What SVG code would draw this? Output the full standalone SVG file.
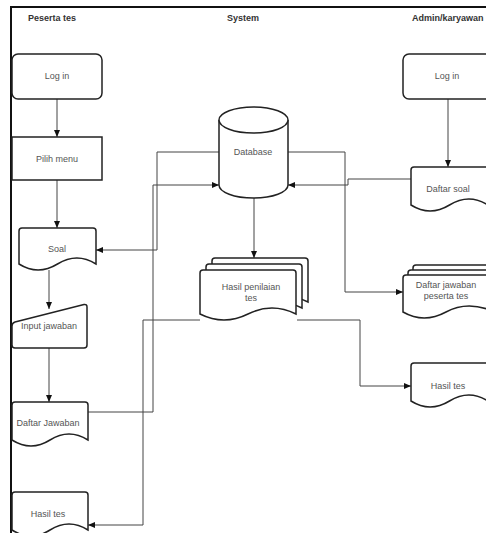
<svg xmlns="http://www.w3.org/2000/svg" width="486" height="533" viewBox="0 0 486 533">
<defs>
<style>
.n{fill:#fff;stroke:#222;stroke-width:1.5}
.t{font-family:"Liberation Sans",Arial,sans-serif;font-size:9px;fill:#555;text-anchor:middle}
.h{font-family:"Liberation Sans",Arial,sans-serif;font-size:9px;font-weight:bold;fill:#333}
.c{fill:none;stroke:#444;stroke-width:1}
.f{fill:none;stroke:#111;stroke-width:2}
</style>
<marker id="a" markerWidth="7" markerHeight="6" refX="7" refY="3" orient="auto" markerUnits="userSpaceOnUse">
<path d="M0,0 L7,3 L0,6 Z" fill="#111"/>
</marker>
</defs>
<rect width="486" height="533" fill="#fff"/>
<g id="frame">
<path class="f" d="M10,7 H486 M11,7 V533"/>
<text class="h" x="28" y="21">Peserta tes</text>
<text class="h" x="243" y="21" text-anchor="middle">System</text>
<text class="h" x="412" y="21">Admin/karyawan</text>
</g>
<g id="connectors">
<path class="c" marker-end="url(#a)" d="M57,99 V137"/>
<path class="c" marker-end="url(#a)" d="M57,180 V228"/>
<path class="c" marker-end="url(#a)" d="M49,270 V309"/>
<path class="c" marker-end="url(#a)" d="M49,348 V402"/>
<path class="c" marker-end="url(#a)" d="M88,412 H153 V185 H219"/>
<path class="c" marker-end="url(#a)" d="M219,152 H157 V250 H96"/>
<path class="c" marker-end="url(#a)" d="M254,198 V258"/>
<path class="c" marker-end="url(#a)" d="M200,320 H143 V525 H88"/>
<path class="c" marker-end="url(#a)" d="M297,320 H360 V386 H411"/>
<path class="c" marker-end="url(#a)" d="M288,152 H345 V292 H403"/>
<path class="c" marker-end="url(#a)" d="M411,179 H348 V185 H288"/>
<path class="c" marker-end="url(#a)" d="M448,99 V167"/>
</g>
<g id="login-peserta">
<rect class="n" x="12" y="54" width="90" height="45" rx="6"/>
<text class="t" x="57" y="79">Log in</text>
</g>
<g id="pilih-menu">
<rect class="n" x="12" y="137" width="90" height="43"/>
<text class="t" x="57" y="162">Pilih menu</text>
</g>
<g id="soal">
<path class="n" d="M19,231 Q19,228 22,228 H93 Q96,228 96,231 V264 Q77,252 57.5,264 Q38,276 19,264 Z"/>
<text class="t" x="57" y="252">Soal</text>
</g>
<g id="input-jawaban">
<path class="n" d="M12,326 Q12,323 15,322 L84,304.5 Q87,304 87,307 V345 Q87,348 84,348 H15 Q12,348 12,345 Z"/>
<text class="t" x="49" y="329">Input jawaban</text>
</g>
<g id="daftar-jawaban">
<path class="n" d="M12,405 Q12,402 15,402 H85 Q88,402 88,405 V440 Q69,428 50,440 Q31,452 12,440 Z"/>
<text class="t" x="48" y="426">Daftar Jawaban</text>
</g>
<g id="hasil-tes-peserta">
<path class="n" d="M12,495 Q12,492 15,492 H85 Q88,492 88,495 V530 Q69,518 50,530 Q31,542 12,530 Z"/>
<text class="t" x="48" y="517">Hasil tes</text>
</g>
<g id="database">
<path class="n" d="M219,120 V185 A34.5,13 0 0 0 288,185 V120"/>
<ellipse class="n" cx="253.5" cy="120" rx="34.5" ry="13"/>
<text class="t" x="253" y="155">Database</text>
</g>
<g id="hasil-penilaian">
<path class="n" d="M212,261 Q212,258 215,258 H305 Q308,258 308,261 V302 Q284,290 260,302 Q236,314 212,302 Z"/>
<path class="n" d="M206,267 Q206,264 209,264 H299 Q302,264 302,267 V308 Q278,296 254,308 Q230,320 206,308 Z"/>
<path class="n" d="M200,273 Q200,270 203,270 H293 Q296,270 296,273 V314 Q272,302 248,314 Q224,326 200,314 Z"/>
<text class="t" x="251" y="290">Hasil penilaian</text>
<text class="t" x="251" y="301">tes</text>
</g>
<g id="login-admin">
<rect class="n" x="403" y="54" width="88" height="45" rx="6"/>
<text class="t" x="447" y="79">Log in</text>
</g>
<g id="daftar-soal">
<path class="n" d="M411,170 Q411,167 414,167 H488 V205 Q469,193 449.5,205 Q430,217 411,205 Z"/>
<text class="t" x="448" y="192">Daftar soal</text>
</g>
<g id="daftar-jawaban-peserta">
<path class="n" d="M413,268 Q413,265 416,265 H495 V302 Q475,290 455,302 Q434,314 413,302 Z"/>
<path class="n" d="M408,273 Q408,270 411,270 H495 V307 Q470,295 450,307 Q429,319 408,307 Z"/>
<path class="n" d="M403,278 Q403,275 406,275 H495 V312 Q468,300 446,312 Q424,324 403,312 Z"/>
<text class="t" x="446" y="288">Daftar jawaban</text>
<text class="t" x="446" y="299">peserta tes</text>
</g>
<g id="hasil-tes-admin">
<path class="n" d="M411,366 Q411,363 414,363 H488 V401 Q469,389 449.5,401 Q430,413 411,401 Z"/>
<text class="t" x="448" y="389">Hasil tes</text>
</g>
</svg>
